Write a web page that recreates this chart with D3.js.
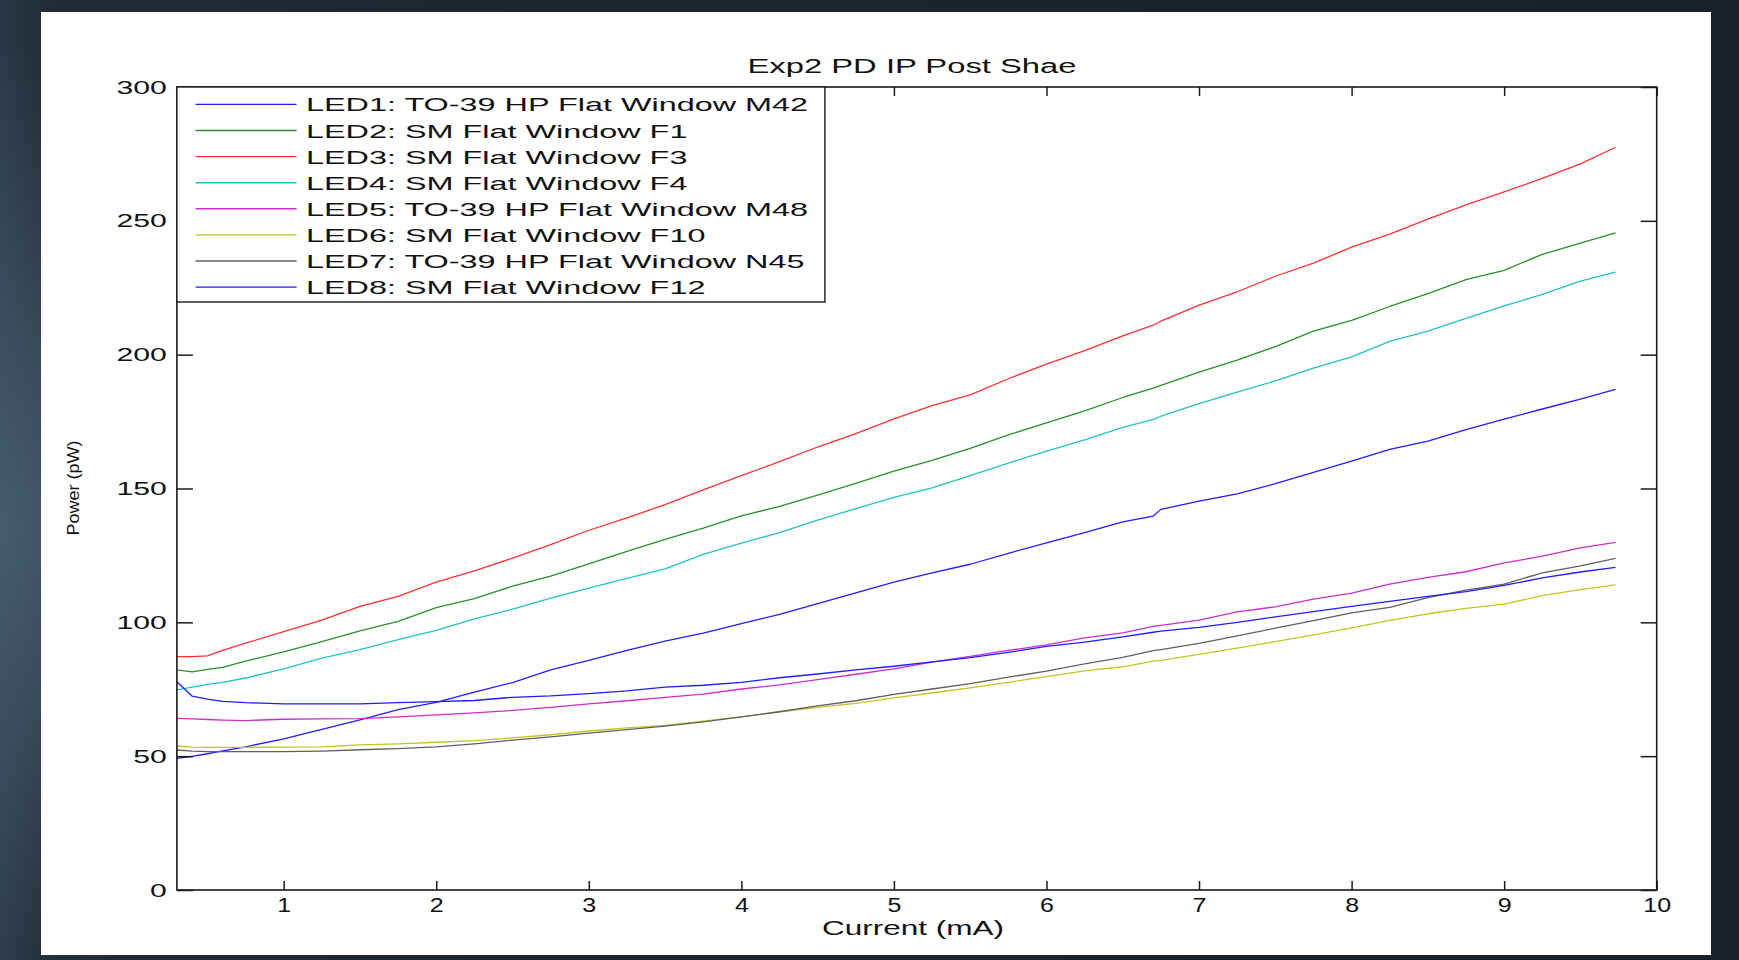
<!DOCTYPE html>
<html><head><meta charset="utf-8">
<script src="https://cdn.jsdelivr.net/npm/d3@7"></script>
<style>html,body{margin:0;padding:0;background:#1c242d;overflow:hidden}</style>
</head><body><svg id="c" width="1739" height="960"></svg>
<script>
// ---------------- DATA ----------------
const chartTitle = "Exp2 PD IP Post Shae";
const xLabel = "Current (mA)";
const yLabel = "Power (pW)";
const xTicks = [1,2,3,4,5,6,7,8,9,10];
const yTicks = [0,50,100,150,200,250,300];
const currentMA = [0.3,0.4,0.5,0.6,0.75,1.0,1.25,1.5,1.75,2.0,2.25,2.5,2.75,3.0,3.25,3.5,3.75,4.0,4.25,4.5,4.75,5.0,5.25,5.5,5.75,6.0,6.25,6.5,6.7,6.75,7.0,7.25,7.5,7.75,8.0,8.25,8.5,8.75,9.0,9.25,9.5,9.73];
const led1 = [49.2,49.9,50.9,52,53.5,56.5,60,63.6,67.4,70.1,73.9,77.5,82.2,85.8,89.5,93,96,99.5,103,107,111,115,118.5,121.7,125.8,129.7,133.5,137.5,139.7,142.2,145.3,148,151.8,156,160.2,164.6,167.7,172,175.9,179.7,183.4,187];
const led2 = [82.2,81.5,82.4,83.2,85.5,89,92.8,96.8,100.4,105.5,108.9,113.5,117.3,121.8,126.5,131,135.2,139.8,143.3,147.5,151.9,156.5,160.5,165,170,174.5,179,184,187.5,188.5,193.5,198,203,208.8,212.8,218,222.8,228,231.5,237.5,241.7,245.5];
const led3 = [87.2,87.2,87.5,89.5,92.2,96.5,100.8,106,109.7,115,119.2,124,129,134.4,139,144,149.5,154.8,160,165.5,170.5,176,181,185,191,196.5,201.5,207,211,212.5,218.5,223.5,229.3,234.2,240.2,245,250.6,256,260.8,265.9,271.3,277.5];
const led4 = [74.8,75.8,76.8,77.6,79.2,82.6,86.6,89.8,93.5,97,101.3,104.9,109,112.8,116.4,120,125.4,129.6,133.5,138.2,142.5,146.7,150.2,154.8,159.5,164,168.2,172.8,175.8,177,181.7,186,190.2,195,199.2,205,208.8,213.6,218.2,222.5,227.5,230.8];
const led5 = [64.1,63.9,63.7,63.5,63.3,63.8,63.9,64,64.7,65.4,66.2,67.1,68.2,69.5,70.7,72,73.2,75.1,76.6,78.6,80.6,82.6,85.1,87.3,89.5,91.6,94.2,96.1,98.5,98.9,100.8,103.9,105.8,108.7,110.9,114.3,116.8,118.9,122.2,124.7,127.8,129.9];
const led6 = [53.8,53.4,53.3,53.3,53.3,53.4,53.5,54.2,54.6,55.2,55.8,56.8,58,59.4,60.6,61.5,63.1,64.7,66.6,68.2,69.7,71.8,73.6,75.5,77.6,79.7,81.9,83.4,85.5,85.8,88,90.4,92.8,95.3,97.9,100.7,103.2,105.2,106.8,110,112.2,114];
const led7 = [52.3,51.9,51.7,51.7,51.7,51.7,51.9,52.4,52.8,53.5,54.6,56,57.2,58.6,59.9,61.2,62.8,64.7,66.6,68.8,70.7,73.1,75.1,77.1,79.5,81.8,84.5,86.9,89.4,89.8,92.1,94.9,97.8,100.6,103.5,105.6,109.2,112,114.3,118.5,121.1,123.9];
const led8 = [77.8,72.4,71.3,70.5,70,69.5,69.5,69.5,70,70.4,70.8,72,72.5,73.4,74.4,75.8,76.5,77.6,79.3,80.7,82.2,83.6,85.2,86.8,88.8,91,92.6,94.6,96.3,96.7,98.1,100,102,104,106,107.8,109.7,111.5,113.8,116.6,118.8,120.5];
const seriesNames = [
  "LED1: TO-39 HP Flat Window M42",
  "LED2: SM Flat Window F1",
  "LED3: SM Flat Window F3",
  "LED4: SM Flat Window F4",
  "LED5: TO-39 HP Flat Window M48",
  "LED6: SM Flat Window F10",
  "LED7: TO-39 HP Flat Window N45",
  "LED8: SM Flat Window F12"
];
const seriesValues = [led1, led2, led3, led4, led5, led6, led7, led8];
const seriesColors = ["#1e1eff","#2b8f2b","#ff3030","#22c2c2","#cc2ecc","#c4c420","#606060","#1e1eff"];

// ---------------- LAYOUT ----------------
const FONT = "'Liberation Sans', Arial, Helvetica, sans-serif";
const svg = d3.select('#c');
const defs = svg.append('defs');
const lg = defs.append('linearGradient').attr('id','bg').attr('x1',0).attr('x2',1).attr('y1',0).attr('y2',0);
[[0,'#2b3a49'],[0.025,'#212c37'],[0.3,'#1d252e'],[1,'#1a2027']].forEach(s=>lg.append('stop').attr('offset',s[0]).attr('stop-color',s[1]));
const rg = defs.append('radialGradient').attr('id','glow').attr('cx',0).attr('cy',0.55).attr('r',0.5)
  .attr('gradientTransform','scale(0.3,1)');
rg.append('stop').attr('offset',0).attr('stop-color','#4a6075').attr('stop-opacity',0.9);
rg.append('stop').attr('offset',1).attr('stop-color','#4a6075').attr('stop-opacity',0);
svg.append('rect').attr('width',1739).attr('height',960).attr('fill','url(#bg)');
svg.append('rect').attr('width',1739).attr('height',960).attr('fill','url(#glow)');
svg.append('rect').attr('x',41).attr('y',12).attr('width',1670).attr('height',943).attr('fill','#ffffff');

const L = 176.9, R = 1656.7, T = 87, B = 890;
const x = d3.scaleLinear().domain([0.3,10]).range([L,R]);
const y = d3.scaleLinear().domain([0,300]).range([B,T]);

function stretchTo(sel, target){
  sel.attr('textLength', target).attr('lengthAdjust','spacingAndGlyphs');
}
function stretchBy(sel, f){
  sel.each(function(){
    const w = this.getComputedTextLength();
    d3.select(this).attr('textLength', w*f).attr('lengthAdjust','spacingAndGlyphs');
  });
}

// lines
const clip = defs.append('clipPath').attr('id','pc');
clip.append('rect').attr('x',L).attr('y',T).attr('width',R-L).attr('height',B-T);
const line = d3.line().x((d,i)=>x(currentMA[i])).y(d=>y(d));
svg.append('g').attr('clip-path','url(#pc)')
  .selectAll('path').data(seriesValues).join('path')
  .attr('d', d=>line(d)).attr('fill','none')
  .attr('stroke',(d,i)=>seriesColors[i]).attr('stroke-width',1.3)
  .attr('stroke-linejoin','round');

// axes
const axStyle = g => { g.select('.domain').remove(); g.selectAll('.tick line').attr('stroke','#1a1a1a').attr('stroke-width',1.5); };
const gB = svg.append('g').attr('transform',`translate(0,${B})`)
  .call(d3.axisBottom(x).tickValues(xTicks).tickFormat(d3.format('d')).tickSizeInner(-9).tickSizeOuter(0).tickPadding(7.5))
  .call(axStyle);
gB.selectAll('text').attr('font-family',FONT).attr('font-size',20).attr('fill','#111');
stretchBy(gB.selectAll('text'), 1.25);

svg.append('g').attr('transform',`translate(0,${T})`)
  .call(d3.axisTop(x).tickValues(xTicks).tickFormat('').tickSizeInner(-9).tickSizeOuter(0)).call(axStyle);
const gL = svg.append('g').attr('transform',`translate(${L},0)`)
  .call(d3.axisLeft(y).tickValues(yTicks).tickFormat(d3.format('d')).tickSizeInner(-16).tickSizeOuter(0).tickPadding(10))
  .call(axStyle);
gL.selectAll('text').attr('font-family',FONT).attr('font-size',19).attr('fill','#111')
  .each(function(d){ d3.select(this).attr('textLength', String(d).length*16.8).attr('lengthAdjust','spacingAndGlyphs'); });
svg.append('g').attr('transform',`translate(${R},0)`)
  .call(d3.axisRight(y).tickValues(yTicks).tickFormat('').tickSizeInner(-16).tickSizeOuter(0)).call(axStyle);

svg.append('rect').attr('x',L).attr('y',T).attr('width',R-L).attr('height',B-T)
  .attr('fill','none').attr('stroke','#1a1a1a').attr('stroke-width',1.6);

// titles
const tt = svg.append('text').attr('x',912).attr('y',72.7).attr('text-anchor','middle')
  .attr('font-family',FONT).attr('font-size',20).attr('fill','#111').text(chartTitle);
stretchTo(tt, 329);
const xl = svg.append('text').attr('x',913).attr('y',935).attr('text-anchor','middle')
  .attr('font-family',FONT).attr('font-size',20).attr('fill','#111').text(xLabel);
stretchTo(xl, 182);
const yl = svg.append('text').attr('transform','translate(73,488) rotate(-90)').attr('text-anchor','middle')
  .attr('dy','0.35em').attr('font-family',FONT).attr('font-size',16.5).attr('fill','#111').text(yLabel);
stretchTo(yl, 95);

// legend
const lgX = L, lgY = T, lgW = 648, lgH = 215;
const leg = svg.append('g');
leg.append('rect').attr('x',lgX).attr('y',lgY).attr('width',lgW).attr('height',lgH)
  .attr('fill','#fff').attr('stroke','#1a1a1a').attr('stroke-width',1.4);
const rows = leg.selectAll('g.row').data(seriesNames).join('g').attr('class','row')
  .attr('transform',(d,i)=>`translate(0,${104.4 + i*26.1})`);
rows.append('line').attr('x1',195.6).attr('x2',296.6).attr('y1',0).attr('y2',0)
  .attr('stroke',(d,i)=>seriesColors[i]).attr('stroke-width',1.4);
const lt = rows.append('text').attr('x',306).attr('y',7).attr('font-family',FONT).attr('font-size',19)
  .attr('fill','#111').text(d=>d);
const w0 = lt.node().getComputedTextLength();
stretchBy(lt, 502 / w0);
</script></body></html>
